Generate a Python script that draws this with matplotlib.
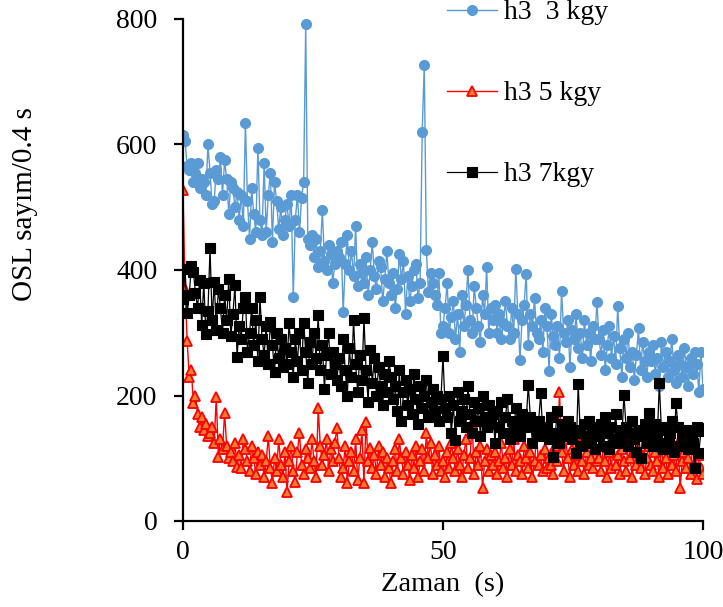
import numpy as np
import matplotlib
matplotlib.use("Agg")
import matplotlib.pyplot as plt

plt.rcParams['font.family'] = ['Liberation Serif', 'DejaVu Serif']

# OSL decay curves, one reading every 0.4 s
h3_3kgy = [
    615, 605, 565, 560, 570, 540, 555, 570, 530, 545, 540, 520, 600, 555, 505, 510, 560, 545, 580, 520, 575, 545, 490, 540, 530,
    500, 525, 480, 520, 470, 635, 510, 450, 530, 490, 460, 595, 480, 455, 570, 460, 520, 555, 445, 540, 510, 465, 500, 455, 480,
    505, 470, 520, 357, 480, 520, 460, 515, 540, 792, 450, 440, 455, 420, 450, 405, 430, 495, 415, 400, 440, 425, 380, 410, 430,
    420, 445, 333, 410, 455, 400, 430, 390, 470, 375, 410, 395, 380, 420, 360, 400, 445, 390, 370, 415, 405, 350, 385, 430, 380,
    360, 395, 340, 370, 425, 385, 415, 330, 390, 350, 375, 400, 410, 355, 380, 620, 727, 432, 365, 395, 380, 360, 345, 395, 300,
    310, 340, 380, 300, 325, 350, 290, 330, 270, 360, 310, 345, 400, 320, 300, 375, 340, 310, 285, 360, 330, 405, 300, 340, 320,
    345, 300, 330, 290, 315, 350, 310, 290, 340, 300, 402, 330, 257, 320, 345, 394, 280, 330, 310, 355, 300, 290, 320, 270, 340,
    310, 239, 330, 295, 280, 310, 260, 367, 300, 285, 320, 245, 305, 290, 330, 275, 300, 260, 320, 280, 300, 255, 310, 290, 349,
    290, 265, 305, 240, 280, 310, 260, 295, 250, 343, 275, 230, 290, 260, 300, 245, 270, 225, 265, 307, 240, 285, 255, 230, 270,
    255, 280, 235, 260, 215, 285, 245, 270, 230, 255, 290, 240, 220, 265, 250, 230, 275, 245, 215, 260, 235, 270, 250, 206, 270,
    210,
]

h3_5kgy = [
    527, 370, 287, 230, 241, 188, 200, 170, 150, 166, 145, 155, 135, 140, 150, 125, 198, 102, 130, 115, 172, 120, 100, 110, 95,
    125, 86, 105, 84, 130, 115, 95, 80, 120, 100, 75, 110, 90, 105, 70, 95, 135, 85, 60, 100, 80, 130, 90, 70, 110,
    46, 95, 120, 80, 62, 110, 140, 90, 75, 115, 100, 85, 130, 95, 70, 180, 120, 90, 105, 130, 80, 115, 95, 125, 148,
    100, 70, 85, 120, 60, 95, 110, 80, 130, 65, 100, 145, 61, 158, 95, 116, 85, 105, 75, 120, 90, 110, 70, 100, 85,
    60, 95, 115, 80, 130, 100, 75, 110, 90, 65, 105, 85, 120, 70, 95, 115, 80, 140, 100, 125, 75, 105, 90, 120, 80,
    95, 70, 110, 85, 125, 100, 80, 115, 90, 70, 105, 130, 85, 100, 156, 75, 110, 90, 120, 53, 95, 115, 80, 105, 90,
    110, 75, 95, 125, 85, 100, 70, 115, 90, 130, 80, 105, 95, 75, 120, 100, 85, 110, 70, 95, 135, 90, 105, 80, 115,
    85, 100, 90, 75, 120, 95, 206, 110, 80, 130, 100, 70, 115, 90, 105, 80, 125, 95, 75, 110, 90, 100, 85, 120, 95,
    100, 80, 120, 95, 70, 110, 85, 130, 90, 105, 75, 115, 95, 80, 125, 100, 70, 110, 90, 135, 85, 105, 75, 100, 120,
    90, 80, 110, 95, 70, 120, 85, 100, 75, 115, 90, 105, 80, 125, 53, 95, 110, 85, 100, 75, 120, 90, 67, 105, 85,
    75,
]

h3_7kgy = [
    354, 402, 331, 360, 406, 397, 363, 340, 384, 312, 380, 298, 335, 435, 320, 381, 305, 370, 340, 300, 360, 320, 385, 295, 330,
    376, 262, 310, 290, 340, 357, 270, 300, 339, 280, 320, 255, 357, 290, 265, 310, 250, 317, 280, 237, 300, 260, 290, 245, 275,
    250, 315, 270, 230, 290, 255, 300, 240, 315, 270, 220, 285, 250, 300, 260, 328, 240, 280, 210, 265, 300, 235, 270, 250, 225,
    260, 215, 290, 240, 200, 275, 230, 320, 250, 205, 265, 225, 323, 240, 190, 273, 220, 260, 200, 245, 215, 185, 235, 205, 255,
    230, 195, 215, 175, 240, 160, 205, 225, 185, 210, 170, 235, 195, 155, 215, 180, 200, 225, 165, 190, 210, 175, 200, 160, 195,
    263, 180, 165, 200, 140, 185, 129, 205, 160, 175, 195, 150, 215, 170, 140, 190, 160, 180, 135, 200, 165, 150, 185, 155, 170,
    125, 175, 150, 190, 140, 165, 195, 130, 160, 145, 180, 155, 135, 170, 150, 160, 217, 165, 125, 150, 140, 160, 204, 135, 145,
    150, 130, 165, 102, 140, 175, 125, 155, 145, 135, 160, 150, 130, 145, 108, 218, 140, 120, 155, 135, 160, 125, 145, 115, 150,
    135, 155, 120, 165, 140, 115, 150, 130, 170, 125, 145, 135, 201, 150, 120, 140, 160, 130, 110, 145, 100, 135, 155, 125, 172,
    140, 120, 155, 130, 220, 145, 115, 150, 125, 140, 160, 110, 188, 150, 120, 135, 130, 145, 115, 140, 125, 84, 150, 108, 144,
    148,
]

time_s = np.arange(len(h3_3kgy)) * 0.4

series_labels = ["h3  3 kgy", "h3 5 kgy", "h3 7kgy"]
x_ticks = [0, 50, 100]
y_ticks = [0, 200, 400, 600, 800]

fig = plt.figure(figsize=(7.23, 6.07), dpi=100)
ax = fig.add_axes([183 / 723, 1 - 521 / 607, 520 / 723, 502 / 607])

l1, = ax.plot(time_s, h3_3kgy, color="#5B9BD5", lw=1.0, marker="o", ms=7.2,
              mfc="#5B9BD5", mec="#5B9BD5", mew=0.8, label=series_labels[0])
l2, = ax.plot(time_s, h3_5kgy, color="#FF0000", lw=1.0, marker="^", ms=7.5,
              mfc="#ED7D31", mec="#FF0000", mew=1.3, label=series_labels[1])
l3, = ax.plot(time_s, h3_7kgy, color="#000000", lw=0.9, marker="s", ms=7.0,
              mfc="#000000", mec="#000000", mew=0.8, label=series_labels[2])

ax.set_xlim(0, 100)
ax.set_ylim(0, 800)
ax.set_xticks(x_ticks)
ax.set_yticks(y_ticks)
ax.spines["top"].set_visible(False)
ax.spines["right"].set_visible(False)
for side in ("left", "bottom"):
    ax.spines[side].set_linewidth(1.6)
ax.tick_params(axis="x", direction="out", length=6.5, width=1.6,
               labelsize=20, pad=7)
ax.tick_params(axis="y", direction="out", length=6.5, width=1.6,
               labelsize=20, pad=12)

ax.set_xlabel("Zaman  (s)", fontsize=20.5, labelpad=5)
ax.set_ylabel("OSL sayım/0.4 s", fontsize=21)
ax.yaxis.set_label_coords(-0.278, 0.631)

fig.legend(handles=[l1, l2, l3], loc="upper left",
           bbox_to_anchor=(447 / 723, 1.0), frameon=False,
           fontsize=20, handlelength=1.8, handletextpad=0.25,
           labelspacing=2.0, borderpad=0.0, borderaxespad=0.0)

fig.savefig("out.png", dpi=100)
